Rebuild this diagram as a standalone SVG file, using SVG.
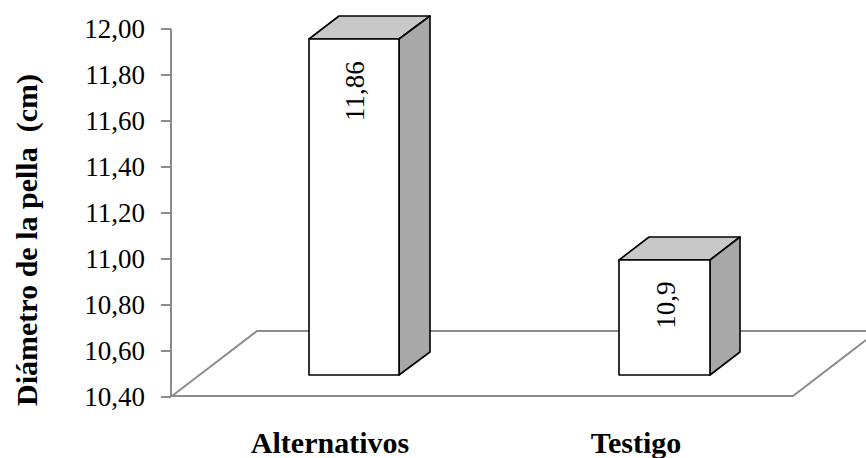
<svg xmlns="http://www.w3.org/2000/svg" width="866" height="458" viewBox="0 0 866 458">
<style>
.ax{stroke:#8c8c8c;stroke-width:2;fill:none}
text{font-family:"Liberation Serif",Tinos,"Times New Roman",Times,"Noto Serif","DejaVu Serif",FreeSerif,serif;fill:#000}
.tick{font-size:27px;text-anchor:end}
.lab{font-size:27px;text-anchor:middle}
.cat{font-size:30px;font-weight:bold;text-anchor:middle}
.front{fill:#fff;stroke:#000;stroke-width:1.6;stroke-linejoin:round}
.top{fill:#c8c8c8;stroke:#000;stroke-width:1.6;stroke-linejoin:round}
.side{fill:#a8a8a8;stroke:#000;stroke-width:1.6;stroke-linejoin:round}
</style>
<rect width="866" height="458" fill="#fff"/>
<g id="floor">
<polyline class="ax" points="172,396 257,331 866,331"/>
<polyline class="ax" points="172,396 793,396 866,340"/>
</g>
<g id="axis">
<line class="ax" x1="171" y1="29" x2="171" y2="397"/>
<path class="ax" d="M161,29H171M161,75H171M161,121H171M161,167H171M161,213H171M161,259H171M161,305H171M161,351H171M161,397H171"/>
<text class="tick" x="145" y="38" font-family="Liberation Serif">12,00</text>
<text class="tick" x="145" y="84">11,80</text>
<text class="tick" x="145" y="130">11,60</text>
<text class="tick" x="145" y="176">11,40</text>
<text class="tick" x="145" y="222">11,20</text>
<text class="tick" x="145" y="268">11,00</text>
<text class="tick" x="145" y="314">10,80</text>
<text class="tick" x="145" y="360">10,60</text>
<text class="tick" x="145" y="406">10,40</text>
</g>
<g id="bar-alternativos">
<polygon class="top" points="309,39 339,16 430,16 399,39"/>
<polygon class="side" points="399,39 430,16 430,352 399,375"/>
<rect class="front" x="309" y="39" width="90" height="336"/>
<text class="lab" transform="translate(364,91) rotate(-90)">11,86</text>
</g>
<g id="bar-testigo">
<polygon class="top" points="619,260 649,237 740,237 710,260"/>
<polygon class="side" points="710,260 740,237 740,352 710,375"/>
<rect class="front" x="619" y="260" width="91" height="115"/>
<text class="lab" transform="translate(675,305) rotate(-90)">10,9</text>
</g>
<g id="labels">
<text class="cat" x="330" y="453">Alternativos</text>
<text class="cat" x="636" y="453">Testigo</text>
<text class="cat" transform="translate(37,240) rotate(-90)" xml:space="preserve">Diámetro de la pella  (cm)</text>
</g>
</svg>
